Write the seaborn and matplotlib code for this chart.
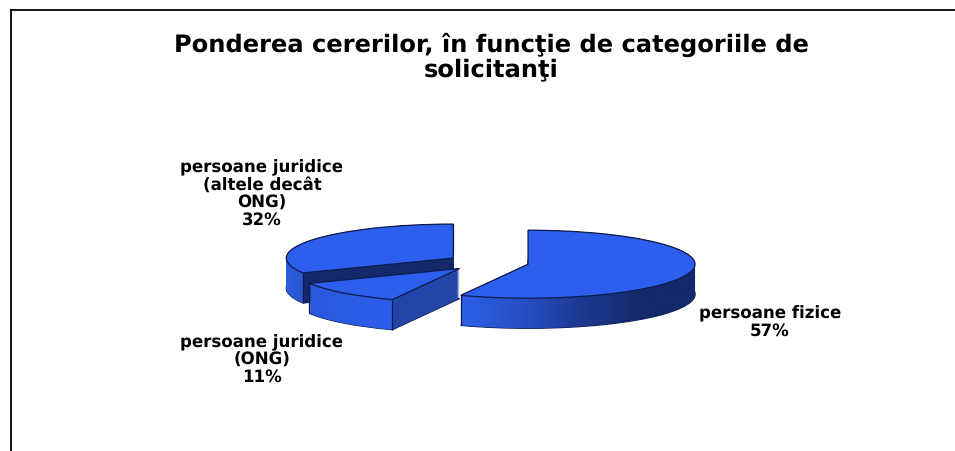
import numpy as np
import matplotlib
matplotlib.use("Agg")
import matplotlib.pyplot as plt
from matplotlib.path import Path
from matplotlib.patches import PathPatch
import seaborn as sns

slices = ['persoane fizice', 'persoane juridice (ONG)',
          'persoane juridice (altele decât ONG)']
shares = [56.6, 11.2, 32.2]
title_text = 'Ponderea cererilor, în funcţie de categoriile de\nsolicitanţi'

# Colors
TOP_BLUE = '#2C5FEE'
NAVY = '#14296B'
MID_BLUE = '#2345A8'
EDGE = '#0D1B4A'

W, H = 955, 451
CX, CY = 488, 262.5    # pie centre in pixels
RX, RY = 167, 34       # ellipse radii in pixels
DEPTH = 30 / RY        # wall height in pie units
EXPLODE = [0.245, 0.245, 0.245]

sns.set_theme(style='white')
plt.rcParams['font.family'] = ['DejaVu Sans']
plt.rcParams['text.hinting'] = 'no_hinting'

fig = plt.figure(figsize=(W / 100, H / 100), dpi=100)

# --- frame: only top and left lines in the original ---
frame = fig.add_axes([10.5 / W, 0, 1 - 10.5 / W, 1 - 9.5 / H])
frame.set_xticks([])
frame.set_yticks([])
sns.despine(ax=frame, top=False, left=False, right=True, bottom=True)
for side in ['top', 'left']:
    frame.spines[side].set_color('black')
    frame.spines[side].set_linewidth(1.3)

# --- pie: squashed by letting x and y scale differently ---
ax = fig.add_axes([0, 0, 1, 1])
ax.patch.set_alpha(0)
base, _ = ax.pie(shares, startangle=90, counterclock=False, explode=EXPLODE,
                 center=(0, -DEPTH), colors=[NAVY], radius=1,
                 wedgeprops={'edgecolor': EDGE, 'linewidth': 1.0})
top, _ = ax.pie(shares, startangle=90, counterclock=False, explode=EXPLODE,
                colors=[TOP_BLUE], radius=1,
                wedgeprops={'edgecolor': EDGE, 'linewidth': 0.9})
ax.set_frame_on(False)


def wedge_path(w, dy=0.0):
    return w.get_patch_transform().transform_path(w.get_path()).transformed(
        matplotlib.transforms.Affine2D().translate(0, dy))


def rim_point(w, angle):
    # angle in degrees on the shifted wedge
    cx, cy = w.center
    return cx + np.cos(np.radians(angle)), cy + np.sin(np.radians(angle))


# draw back to front: 32%, 11%, 57%
order = [2, 1, 0]
wall_colors = {
    0: ['#2C5FE8', '#2650C4', '#1C3A94', NAVY, NAVY],
    1: ['#2A59DC', '#2C5FEE'],
    2: ['#2C5CE0', '#2A55CC'],
}
for rank, i in enumerate(order):
    z = 10 + rank * 10
    b, t = base[i], top[i]
    b.set_zorder(z)
    t.set_zorder(z + 4)

    # solid side (cut faces)
    layers = [wedge_path(t, -DEPTH * k / 30) for k in range(31)]
    solid = Path.make_compound_path(*layers)
    face_color = MID_BLUE if i == 1 else NAVY
    ax.add_patch(PathPatch(solid, facecolor=face_color, edgecolor='none',
                           zorder=z + 1))

    # gradient on the round rim only: x range between the visible rim ends
    ang = sorted([t.theta1, t.theta2])
    ends = [rim_point(t, a) for a in ang]
    if i == 0:
        x0, x1 = ends[0][0], t.center[0] + 1
    elif i == 1:
        x0, x1 = min(e[0] for e in ends), max(e[0] for e in ends)
    else:
        x0, x1 = t.center[0] - 1, rim_point(t, ang[1])[0]
    cmap = sns.blend_palette(wall_colors[i], as_cmap=True)
    img = ax.imshow(np.linspace(0, 1, 256)[None, :], cmap=cmap,
                    extent=(x0, x1, -5, 5), aspect='auto', zorder=z + 2)
    img.set_clip_path(PathPatch(solid, transform=ax.transData))

    # vertical edges at the rim ends
    for a in ang:
        px, py = rim_point(t, a)
        if py < t.center[1] or i == 2:
            ax.plot([px, px], [py, py - DEPTH], color=EDGE, lw=0.9, zorder=z + 3,
                    solid_capstyle='butt')

ax.set_aspect('auto')
ax.set_xlim((0 - CX) / RX, (W - CX) / RX)
ax.set_ylim((CY - H) / RY, CY / RY)

# --- text ---
fig.text(491.5 / W, 1 - 57 / H, title_text, ha='center', va='center',
         fontsize=17.4, fontweight='bold', color='black', linespacing=1.1)

label_style = dict(ha='center', va='center', fontsize=12, fontweight='bold',
                   color='black', linespacing=1.06)
fig.text(262 / W, 1 - 194 / H,
         'persoane juridice\n(altele decât\nONG)\n32%', **label_style)
fig.text(262 / W, 1 - 360 / H, 'persoane juridice\n(ONG)\n11%', **label_style)
fig.text(770 / W, 1 - 322 / H, 'persoane fizice\n57%', **label_style)

plt.savefig('out.png', dpi=100)
plt.close()
